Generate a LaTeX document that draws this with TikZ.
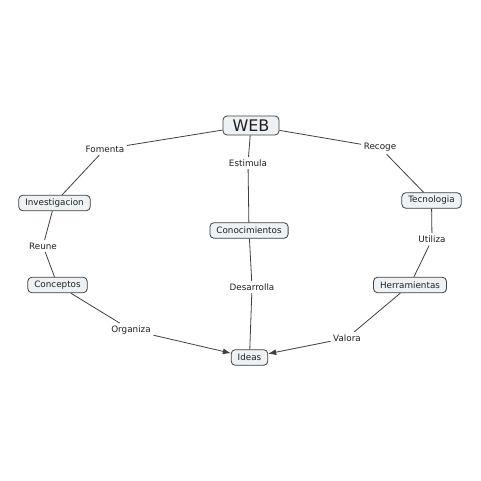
\documentclass[tikz,border=0pt]{standalone}
\usepackage{fontspec}
\setmainfont{DejaVu Sans}
\usetikzlibrary{arrows.meta}
\definecolor{cfill}{HTML}{EEF2F4}
\definecolor{cline}{HTML}{404040}
\definecolor{ctext}{HTML}{202020}
\begin{document}
\begin{tikzpicture}[x=1pt,y=-1pt,
  concept/.style={draw=cline,fill=cfill,rounded corners=4pt,line width=0.8pt,
    font=\fontsize{8.8}{10}\selectfont,text=ctext,inner xsep=6.5pt,inner ysep=0pt,
    minimum height=15.5pt},
  lbl/.style={font=\fontsize{8.8}{10}\selectfont,text=ctext,inner sep=2.5pt},
  link/.style={draw=cline,line width=0.8pt},
  arr/.style={link,-{Latex[length=8pt,width=6pt]}}]
\useasboundingbox (0,0) rectangle (481,481);
\fill[white] (0,0) rectangle (481,481);
% concepts
\node[concept,font=\fontsize{16}{18}\selectfont,minimum height=19pt,inner xsep=6pt,minimum width=56pt] (web) at (251,125.5) {WEB};
\node[concept] (inv) at (54.5,203) {Investigacion};
\node[concept] (tec) at (431.5,200.5) {Tecnologia};
\node[concept] (con) at (249,230.5) {Conocimientos};
\node[concept] (cpt) at (57.5,285) {Conceptos};
\node[concept] (her) at (410,285) {Herramientas};
\node[concept] (ide) at (249.5,357.5) {Ideas};
% linking phrases
\node[lbl] (fom) at (105,149) {Fomenta};
\node[lbl] (est) at (248,163) {Estimula};
\node[lbl] (rec) at (380,147.5) {Recoge};
\node[lbl] (reu) at (43,246) {Reune};
\node[lbl] (uti) at (432,239.5) {Utiliza};
\node[lbl] (des) at (252,287) {Desarrolla};
\node[lbl] (org) at (131,330) {Organiza};
\node[lbl] (val) at (347,338) {Valora};
% connections
\draw[link] (web) -- (fom);
\draw[link] (fom) -- (inv);
\draw[link] (web) -- (est);
\draw[link] (est) -- (con);
\draw[link] (web) -- (rec);
\draw[link] (rec) -- (tec);
\draw[link] (inv) -- (reu);
\draw[link] (reu) -- (cpt);
\draw[link] (tec) -- (uti);
\draw[link] (uti) -- (her);
\draw[link] (con) -- (des);
\draw[link] (des) -- (ide);
\draw[link] (cpt) -- (org);
\draw[arr] (org) -- (ide);
\draw[link] (her) -- (val);
\draw[arr] (val) -- (ide);
\end{tikzpicture}
\end{document}
